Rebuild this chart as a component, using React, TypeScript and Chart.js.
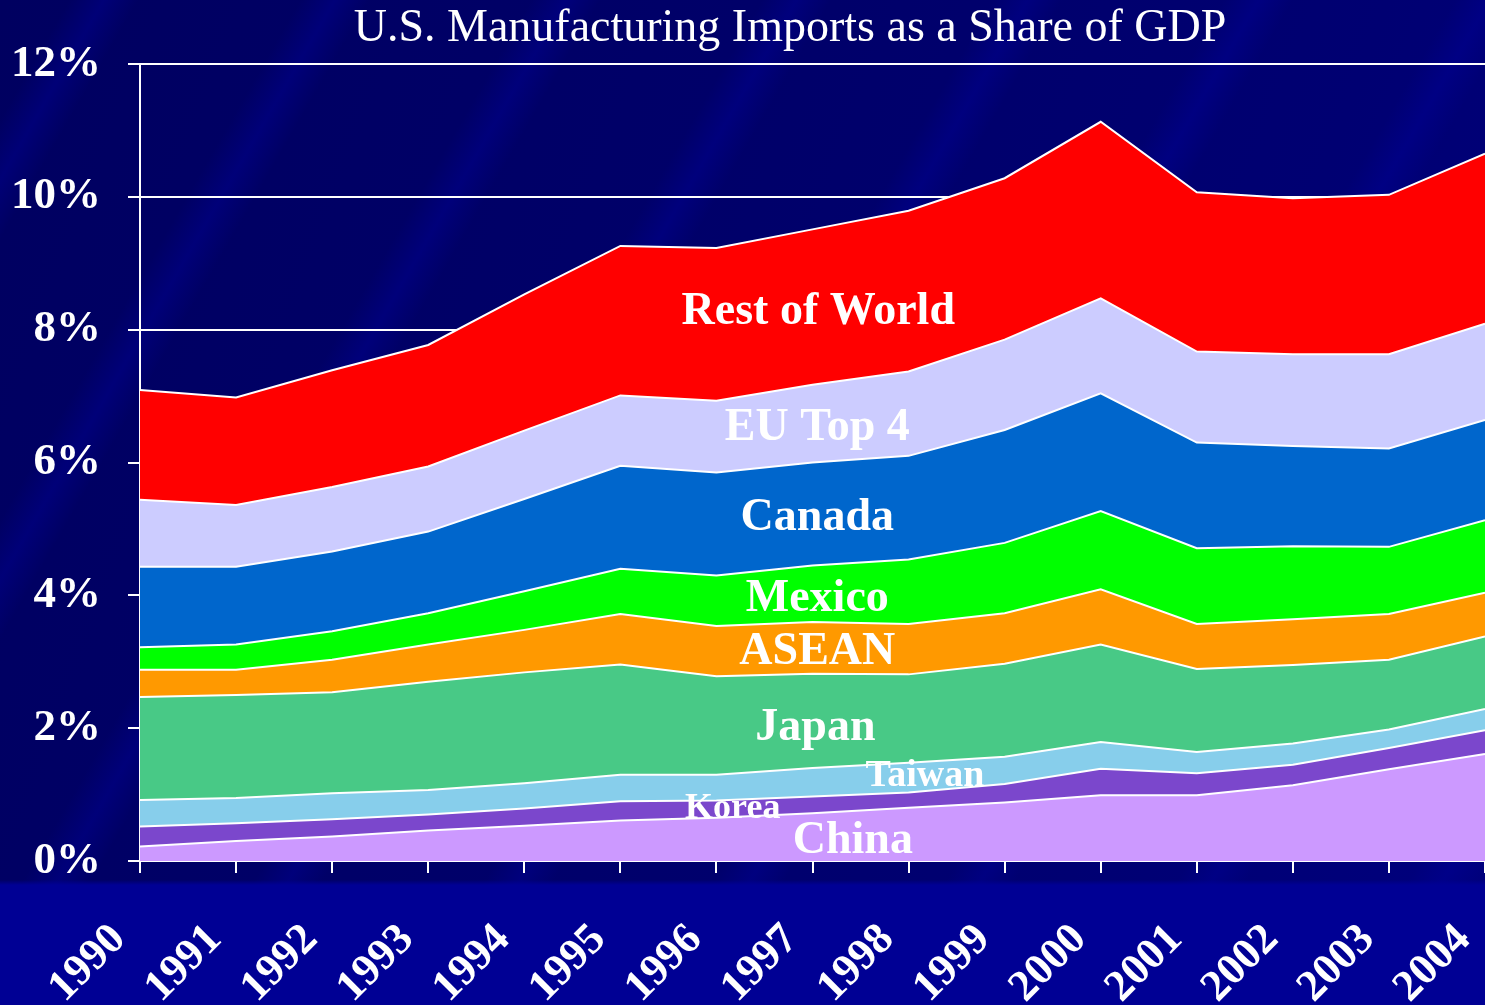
import React, { useEffect, useRef } from "react";
import { Chart, registerables } from "chart.js";

Chart.register(...registerables);

const title = "U.S. Manufacturing Imports as a Share of GDP";
const years = ["1990", "1991", "1992", "1993", "1994", "1995", "1996", "1997", "1998", "1999", "2000", "2001", "2002", "2003", "2004"];

// Share of GDP (%) per source, stacked bottom to top
const china = [0.22, 0.30, 0.37, 0.46, 0.53, 0.61, 0.65, 0.72, 0.80, 0.88, 0.99, 0.99, 1.14, 1.38, 1.61];
const korea = [0.30, 0.27, 0.26, 0.24, 0.26, 0.29, 0.26, 0.25, 0.23, 0.28, 0.40, 0.33, 0.31, 0.32, 0.36];
const taiwan = [0.40, 0.38, 0.39, 0.37, 0.38, 0.40, 0.39, 0.43, 0.45, 0.41, 0.40, 0.32, 0.32, 0.28, 0.32];
const japan = [1.55, 1.55, 1.52, 1.63, 1.67, 1.66, 1.48, 1.42, 1.33, 1.40, 1.47, 1.25, 1.18, 1.05, 1.09];
const asean = [0.41, 0.38, 0.49, 0.56, 0.64, 0.76, 0.76, 0.78, 0.76, 0.76, 0.83, 0.68, 0.69, 0.69, 0.66];
const mexico = [0.34, 0.38, 0.43, 0.47, 0.58, 0.68, 0.76, 0.85, 0.97, 1.06, 1.18, 1.14, 1.10, 1.01, 1.09];
const canada = [1.21, 1.17, 1.20, 1.23, 1.39, 1.55, 1.55, 1.55, 1.56, 1.70, 1.77, 1.59, 1.51, 1.48, 1.51];
const euTop4 = [1.01, 0.93, 0.97, 0.98, 1.03, 1.06, 1.08, 1.17, 1.27, 1.36, 1.43, 1.37, 1.38, 1.42, 1.45];
const restOfWorld = [1.65, 1.62, 1.76, 1.83, 2.05, 2.25, 2.30, 2.34, 2.42, 2.43, 2.66, 2.40, 2.35, 2.40, 2.56];

const seriesNames = ["China", "Korea", "Taiwan", "Japan", "ASEAN", "Mexico", "Canada", "EU Top 4", "Rest of World"];
const seriesValues = [china, korea, taiwan, japan, asean, mexico, canada, euTop4, restOfWorld];
const seriesColors = ["#CC99FF", "#7B47CC", "#87CEEB", "#48C986", "#FF9900", "#00FF00", "#0066CC", "#CCCCFF", "#FF0000"];

const yTicks = [0, 2, 4, 6, 8, 10, 12];

// In-area labels, placed in data coordinates (year index, % of GDP)
const areaLabels = [
  { text: "Rest of World", at: 7.06, value: 8.26, size: 46 },
  { text: "EU Top 4", at: 7.05, value: 6.52, size: 46 },
  { text: "Canada", at: 7.05, value: 5.16, size: 46 },
  { text: "Mexico", at: 7.05, value: 3.94, size: 46 },
  { text: "ASEAN", at: 7.05, value: 3.14, size: 46 },
  { text: "Japan", at: 7.03, value: 2.0, size: 46 },
  { text: "Taiwan", at: 8.17, value: 1.28, size: 38 },
  { text: "Korea", at: 6.17, value: 0.78, size: 36 },
  { text: "China", at: 7.42, value: 0.3, size: 46 },
];

const SERIF = "'Liberation Serif', 'Times New Roman', serif";

export default function App() {
  const ref = useRef<HTMLCanvasElement>(null);

  useEffect(() => {
    document.body.style.margin = "0";
    const canvas = ref.current;
    if (!canvas) return;

    const titlePlugin = {
      id: "slideTitle",
      afterDraw(chart: any) {
        const c = chart.ctx;
        c.save();
        c.font = `46px ${SERIF}`;
        c.fillStyle = "#FFFFFF";
        c.textAlign = "center";
        c.textBaseline = "alphabetic";
        c.fillText(title, 790, 41);
        c.restore();
      },
    };

    const labelPlugin = {
      id: "areaLabels",
      afterDatasetsDraw(chart: any) {
        const c = chart.ctx;
        const xs = chart.scales.x;
        const ys = chart.scales.y;
        c.save();
        c.fillStyle = "#FFFFFF";
        c.textAlign = "center";
        c.textBaseline = "middle";
        for (const l of areaLabels) {
          c.font = `bold ${l.size}px ${SERIF}`;
          const i0 = Math.floor(l.at);
          const frac = l.at - i0;
          const px = xs.getPixelForValue(i0) + frac * (xs.getPixelForValue(i0 + 1) - xs.getPixelForValue(i0));
          c.fillText(l.text, px, ys.getPixelForValue(l.value));
        }
        c.restore();
      },
    };

    const datasets = seriesNames.map((name, i) => ({
      label: name,
      data: seriesValues[i],
      backgroundColor: seriesColors[i],
      borderColor: "#FFFFFF",
      borderWidth: 2,
      pointRadius: 0,
      tension: 0,
      fill: i === 0 ? "origin" : "-1",
    }));

    const chart = new Chart(canvas, {
      type: "line",
      data: { labels: years, datasets },
      options: {
        responsive: false,
        animation: false,
        layout: { padding: { top: 64, right: 0, left: 0, bottom: 0 } },
        plugins: {
          legend: { display: false },
          title: { display: false },
          tooltip: { enabled: false },
        },
        scales: {
          x: {
            offset: false,
            grid: { display: true, drawOnChartArea: false, drawTicks: true, tickLength: 12, color: "#FFFFFF", lineWidth: 2 },
            border: { display: true, color: "#FFFFFF", width: 2 },
            ticks: {
              color: "#FFFFFF",
              font: { family: SERIF, size: 44, weight: "bold" },
              minRotation: 45,
              maxRotation: 45,
              autoSkip: false,
              padding: 41,
              labelOffset: -21,
            },
            afterFit: (s: any) => {
              s.height = 144;
              s.paddingLeft = 0;
              s.paddingRight = 0;
            },
          },
          y: {
            stacked: true,
            min: 0,
            max: 12,
            afterBuildTicks: (s: any) => {
              s.ticks = yTicks.map((v) => ({ value: v }));
            },
            grid: { color: "#FFFFFF", lineWidth: 2, tickLength: 12 },
            border: { display: true, color: "#FFFFFF", width: 2 },
            ticks: {
              color: "#FFFFFF",
              font: { family: SERIF, size: 45, weight: "bold" },
              padding: 27,
              callback: (v: any) => `${v}%`,
            },
            afterFit: (s: any) => {
              s.width = 140;
            },
          },
        },
      },
      plugins: [labelPlugin, titlePlugin],
    });

    return () => chart.destroy();
  }, []);

  return (
    <div
      style={{
        width: 1485,
        height: 1005,
        background:
          "linear-gradient(to bottom, rgba(0,0,0,0) 0px, rgba(0,0,0,0) 880px, #000094 885px, #000094 1005px), " +
          "repeating-linear-gradient(120deg, rgba(0,0,140,0) 0px, rgba(0,0,140,0) 60px, rgba(0,0,160,0.35) 90px, rgba(0,0,140,0) 120px, rgba(0,0,140,0) 200px), " +
          "linear-gradient(110deg, #000060 0%, #00006A 45%, #000072 75%, #00007E 100%)",
      }}
    >
      <canvas ref={ref} width={1485} height={1005} style={{ display: "block" }} />
    </div>
  );
}
